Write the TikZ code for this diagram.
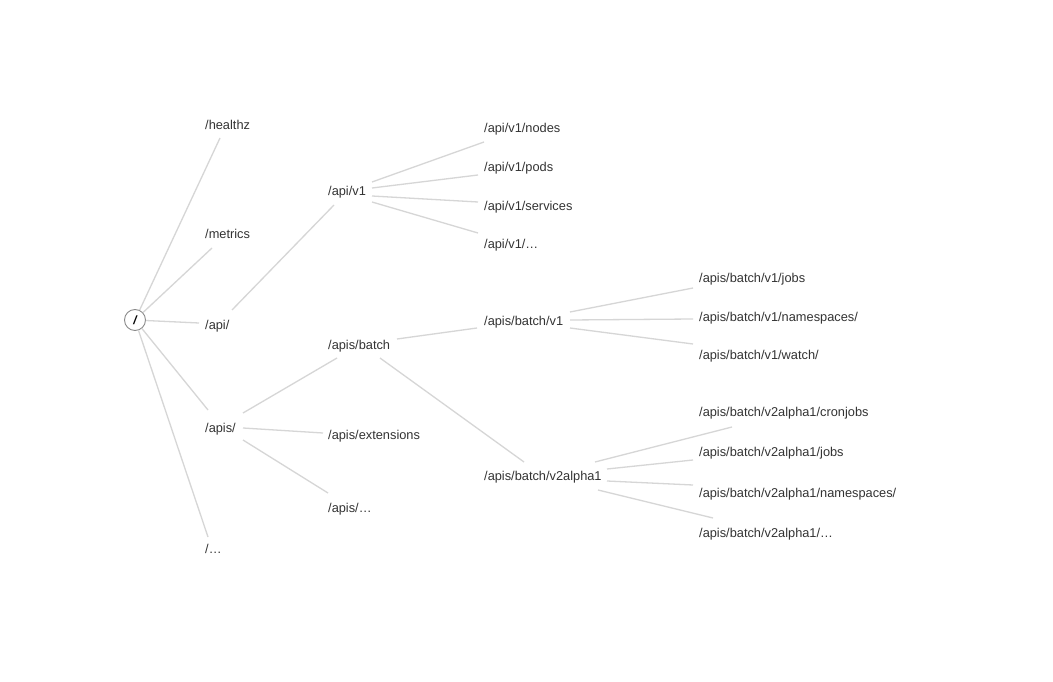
\documentclass[tikz,border=0pt]{standalone}
\usepackage{fontspec}
\setmainfont{Liberation Sans}
\usetikzlibrary{calc}
\definecolor{txt}{HTML}{333333}
\definecolor{edgec}{HTML}{D6D6D6}
\definecolor{ring}{HTML}{8A8A8A}
\tikzset{
  lbl/.style={anchor=base west, inner sep=0pt, text=txt, font=\fontsize{12.8}{14}\selectfont},
  edge/.style={draw=edgec, line width=1.3pt},
  rootnode/.style={circle, draw=ring, line width=0.9pt, minimum size=21pt, inner sep=0pt, text=black, font=\fontsize{12}{14}\selectfont\bfseries\itshape}
}
\begin{document}
\begin{tikzpicture}[x=1pt,y=-1pt]
\useasboundingbox (0,0) rectangle (1053,682);
\fill[white] (0,0) rectangle (1053,682);
\node[rootnode] (root) at (135,320) {/};
% level 1
\node[lbl] (healthz) at (205,129.5) {/healthz};
\node[lbl] (metrics) at (205,238.5) {/metrics};
\node[lbl] (api) at (205,329.5) {/api/};
\node[lbl] (apis) at (205,432.5) {/apis/};
\node[lbl] (dots) at (205,553.5) {/…};
% level 2
\node[lbl] (apiv1) at (328,195.5) {/api/v1};
\node[lbl] (batch) at (328,349.5) {/apis/batch};
\node[lbl] (ext) at (328,439.5) {/apis/extensions};
\node[lbl] (apisdots) at (328,512.5) {/apis/…};
% level 3
\node[lbl] (nodes) at (484,132.5) {/api/v1/nodes};
\node[lbl] (pods) at (484,171.5) {/api/v1/pods};
\node[lbl] (services) at (484,210.5) {/api/v1/services};
\node[lbl] (v1dots) at (484,248.5) {/api/v1/…};
\node[lbl] (bv1) at (484,325.5) {/apis/batch/v1};
\node[lbl] (bv2) at (484,480.5) {/apis/batch/v2alpha1};
% level 4
\node[lbl] (jobs) at (699,282.5) {/apis/batch/v1/jobs};
\node[lbl] (ns) at (699,321.5) {/apis/batch/v1/namespaces/};
\node[lbl] (watch) at (699,359.5) {/apis/batch/v1/watch/};
\node[lbl] (cron) at (699,416.5) {/apis/batch/v2alpha1/cronjobs};
\node[lbl] (v2jobs) at (699,456.5) {/apis/batch/v2alpha1/jobs};
\node[lbl] (v2ns) at (699,497.5) {/apis/batch/v2alpha1/namespaces/};
\node[lbl] (v2dots) at (699,537.5) {/apis/batch/v2alpha1/…};
% edges from root
\draw[edge] (root) -- ($(healthz.base west)+(15,8.5)$);
\draw[edge] (root) -- ($(metrics.base west)+(7,9.5)$);
\draw[edge] (root) -- ($(api.base west)+(-6,-6.5)$);
\draw[edge] (root) -- ($(apis.base west)+(3,-22.5)$);
\draw[edge] (root) -- ($(dots.base west)+(3,-16.5)$);
% level 1 -> 2
\draw[edge] ($(api.base west)+(27,-19.5)$) -- ($(apiv1.base west)+(6,9.5)$);
\draw[edge] ($(apis.base west)+(38,-19.5)$) -- ($(batch.base west)+(9,8.5)$);
\draw[edge] ($(apis.base west)+(38,-4.5)$) -- ($(ext.base west)+(-5,-6.5)$);
\draw[edge] ($(apis.base west)+(38,7.5)$) -- ($(apisdots.base west)+(0,-19.5)$);
% level 2 -> 3
\draw[edge] ($(apiv1.base west)+(44,-13.5)$) -- ($(nodes.base west)+(0,9.5)$);
\draw[edge] ($(apiv1.base west)+(44,-7.5)$) -- ($(pods.base west)+(-6,3.5)$);
\draw[edge] ($(apiv1.base west)+(44,0.5)$) -- ($(services.base west)+(-6,-8.5)$);
\draw[edge] ($(apiv1.base west)+(44,6.5)$) -- ($(v1dots.base west)+(-6,-15.5)$);
\draw[edge] ($(batch.base west)+(69,-10.5)$) -- ($(bv1.base west)+(-7,2.5)$);
\draw[edge] ($(batch.base west)+(52,8.5)$) -- ($(bv2.base west)+(40,-18.5)$);
% level 3 -> 4
\draw[edge] ($(bv1.base west)+(86,-13.5)$) -- ($(jobs.base west)+(-6,5.5)$);
\draw[edge] ($(bv1.base west)+(86,-5.5)$) -- ($(ns.base west)+(-6,-2.5)$);
\draw[edge] ($(bv1.base west)+(86,2.5)$) -- ($(watch.base west)+(-6,-15.5)$);
\draw[edge] ($(bv2.base west)+(111,-18.5)$) -- ($(cron.base west)+(33,10.5)$);
\draw[edge] ($(bv2.base west)+(123,-11.5)$) -- ($(v2jobs.base west)+(-6,3.5)$);
\draw[edge] ($(bv2.base west)+(123,0.5)$) -- ($(v2ns.base west)+(-6,-12.5)$);
\draw[edge] ($(bv2.base west)+(114,9.5)$) -- ($(v2dots.base west)+(14,-19.5)$);
\end{tikzpicture}
\end{document}
